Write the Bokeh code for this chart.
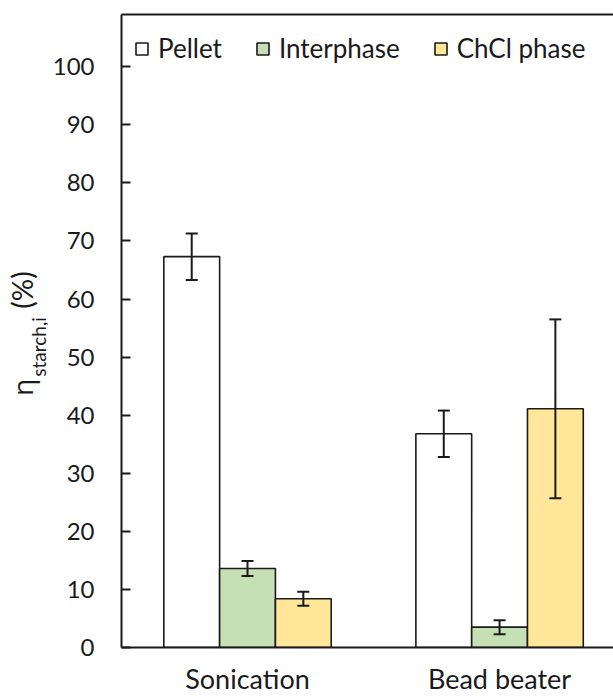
import math
from bokeh.plotting import figure
from bokeh.layouts import row
from bokeh.models import (Range1d, FixedTicker, Whisker, ColumnDataSource,
                          LinearAxis, Legend, LegendItem, TeeHead)
from bokeh.core.properties import value
from bokeh.embed import file_html
from bokeh.resources import INLINE

# ---- data ----
categories = ["Sonication", "Bead beater"]
series = ["Pellet", "Interphase", "ChCl phase"]
pellet = [67.3, 36.8]
pellet_err = [4.0, 4.0]
interphase = [13.6, 3.5]
interphase_err = [1.3, 1.2]
chcl = [8.4, 41.1]
chcl_err = [1.2, 15.4]
colors = ["#FFFFFF", "#C5E0B4", "#FFE699"]
y_ticks = list(range(0, 101, 10))
ytitle_main = "η"
ytitle_sub = "starch,i"
ytitle_unit = "(%)"

values = [pellet, interphase, chcl]
errors = [pellet_err, interphase_err, chcl_err]

FONT = "Lato"
TXT = "#1a1a1a"
PAGE_W, PAGE_H = 613, 697
TW = 48            # width of the y-title strip
BT, BB = 14, 49    # top / bottom borders shared by both panels

# ---- y title strip (page-pixel coordinates: data y = PAGE_H - page y) ----
t = figure(width=TW, height=PAGE_H, output_backend="svg", toolbar_location=None,
           x_range=Range1d(0, TW), y_range=Range1d(BB, PAGE_H - BT),
           x_axis_type=None, y_axis_type=None, min_border=0,
           min_border_left=0, min_border_right=0,
           min_border_top=BT, min_border_bottom=BB)
t.outline_line_color = None
t.text(x=[21], y=[PAGE_H - 387.5], text=[ytitle_main], angle=math.pi / 2,
       text_font=value("Open Sans"), text_font_size=value("28px"), text_color=TXT,
       text_align="center", text_baseline="middle")
t.text(x=[37.5], y=[PAGE_H - 347], text=[ytitle_sub], angle=math.pi / 2,
       text_font=value(FONT), text_font_size=value("19px"), text_color=TXT,
       text_align="center", text_baseline="middle")
t.text(x=[21], y=[PAGE_H - 290], text=[ytitle_unit], angle=math.pi / 2,
       text_font=value(FONT), text_font_size=value("28px"), text_color=TXT,
       text_align="center", text_baseline="middle")

# ---- main chart ----
p = figure(width=PAGE_W - TW, height=PAGE_H, output_backend="svg", toolbar_location=None,
           x_range=Range1d(0, 1.952), y_range=Range1d(0, 109),
           min_border_left=121 - TW, min_border_top=BT, min_border_right=0,
           min_border_bottom=BB)
p.outline_line_color = None
p.xgrid.visible = False
p.ygrid.visible = False

# y axis
p.yaxis.ticker = FixedTicker(ticks=y_ticks)
p.yaxis.major_tick_in = 9
p.yaxis.major_tick_out = 0
p.yaxis.minor_tick_line_color = None
p.yaxis.axis_line_width = 2
p.yaxis.axis_line_color = TXT
p.yaxis.major_tick_line_width = 2
p.yaxis.major_tick_line_color = TXT
p.yaxis.major_label_text_font = FONT
p.yaxis.major_label_text_font_size = "24px"
p.yaxis.major_label_text_color = TXT
p.yaxis.major_label_standoff = 27

# x axis
cat_pos = [i + 0.5 for i in range(len(categories))]
p.xaxis.ticker = FixedTicker(ticks=cat_pos)
p.xaxis.major_label_overrides = {c: lab for c, lab in zip(cat_pos, categories)}
p.xaxis.major_tick_line_color = None
p.xaxis.major_tick_out = 0
p.xaxis.major_tick_in = 0
p.xaxis.minor_tick_line_color = None
p.xaxis.axis_line_width = 2
p.xaxis.axis_line_color = TXT
p.xaxis.major_label_text_font = FONT
p.xaxis.major_label_text_font_size = "27px"
p.xaxis.major_label_text_color = TXT
p.xaxis.major_label_standoff = 14

# top border line
top = LinearAxis(ticker=FixedTicker(ticks=[]), axis_line_width=2, axis_line_color=TXT,
                 major_tick_line_color=None, minor_tick_line_color=None,
                 major_tick_out=0, major_tick_in=0, major_label_standoff=0)
p.add_layout(top, "above")

bw = 0.2214
offsets = [-bw, 0.0, bw]
items = []
for k, (name, vals, errs, col) in enumerate(zip(series, values, errors, colors)):
    xs = [c + offsets[k] for c in cat_pos]
    src = ColumnDataSource(dict(x=xs, top=vals,
                                upper=[v + e for v, e in zip(vals, errs)],
                                lower=[v - e for v, e in zip(vals, errs)]))
    r = p.vbar(x="x", top="top", width=bw, source=src, fill_color=col,
               line_color=TXT, line_width=1.6)
    items.append(LegendItem(label=name, renderers=[r]))
    w = Whisker(base="x", upper="upper", lower="lower", source=src, level="annotation",
                line_color=TXT, line_width=2,
                upper_head=TeeHead(size=12, line_width=2, line_color=TXT),
                lower_head=TeeHead(size=12, line_width=2, line_color=TXT))
    p.add_layout(w)

legend = Legend(items=items, orientation="horizontal", location=(13, 583),
                border_line_color=None, background_fill_alpha=0,
                label_text_font=FONT, label_text_font_size="26px",
                label_text_color=TXT, glyph_width=15, glyph_height=15,
                label_standoff=9, spacing=33, padding=0, margin=0)
p.add_layout(legend)

layout = row(t, p)
open("out.html", "w").write(file_html(layout, INLINE))
